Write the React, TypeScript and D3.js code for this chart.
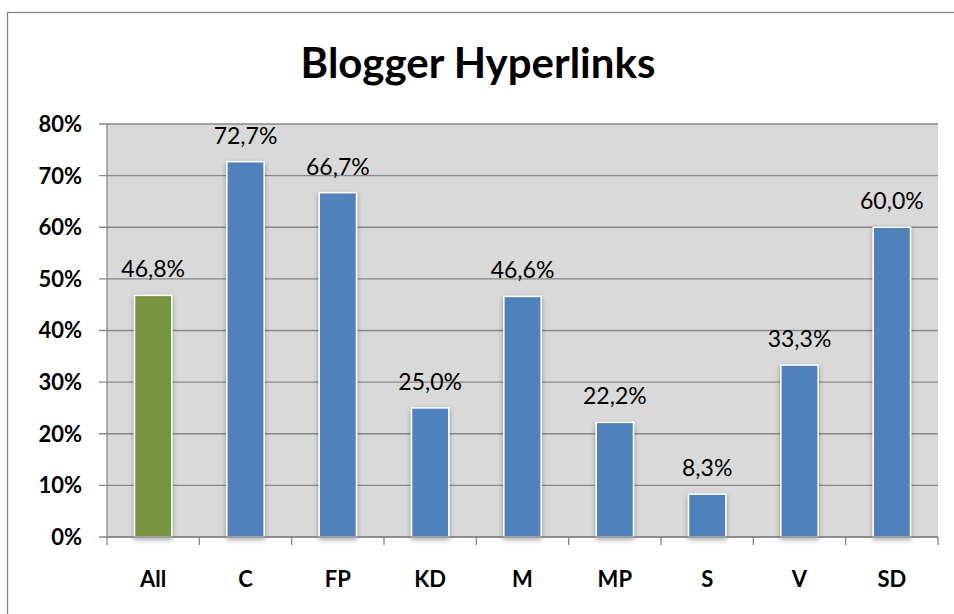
import React from "react";
import * as d3 from "d3";

const categories = ["All", "C", "FP", "KD", "M", "MP", "S", "V", "SD"];
const values = [46.8, 72.7, 66.7, 25.0, 46.6, 22.2, 8.3, 33.3, 60.0];
const barColors = ["#77933C", "#4F81BD", "#4F81BD", "#4F81BD", "#4F81BD", "#4F81BD", "#4F81BD", "#4F81BD", "#4F81BD"];
const yTicks = [0, 10, 20, 30, 40, 50, 60, 70, 80];
const title = "Blogger Hyperlinks";

const W = 954;
const H = 614;
const plot = { left: 107, right: 938, top: 124, bottom: 537 };
const font = "Lato, 'Open Sans', sans-serif";

export default function App() {
  const x = d3.scaleBand<string>().domain(categories).range([plot.left, plot.right]).padding(0);
  const y = d3.scaleLinear().domain([0, 80]).range([plot.bottom, plot.top]);
  const barW = x.bandwidth() * 0.404;
  const fmt = (v: number) => v.toFixed(1).replace(".", ",") + "%";

  return (
    <svg width={W} height={H} style={{ position: "absolute", left: 0, top: 0, background: "#fff" }}>
      <defs>
        <filter id="shadow" x="-30%" y="-10%" width="160%" height="130%">
          <feDropShadow dx="0" dy="2" stdDeviation="2.5" floodColor="#000" floodOpacity="0.35" />
        </filter>
      </defs>
      <rect x={7.5} y={12.5} width={W + 10} height={H + 10} fill="#fff" stroke="#868686" strokeWidth={1.3} />
      <text x={478} y={78} textAnchor="middle" fontFamily={font} fontWeight="bold" fontSize={42} fill="#000">
        {title}
      </text>
      <rect x={plot.left} y={plot.top} width={plot.right - plot.left} height={plot.bottom - plot.top} fill="#D9D9D9" />
      {yTicks.map((t) => (
        <g key={t}>
          <line x1={plot.left - 8} x2={plot.right} y1={y(t)} y2={y(t)} stroke="#878787" strokeWidth={1.3} />
          <text x={82} y={y(t)} dy="0.36em" textAnchor="end" fontFamily={font} fontWeight="bold" fontSize={22} fill="#000">
            {t + "%"}
          </text>
        </g>
      ))}
      <line x1={plot.left} x2={plot.left} y1={plot.top} y2={plot.bottom} stroke="#878787" strokeWidth={1.3} />
      {categories.map((c, i) => (
        <g key={c}>
          <rect
            x={x(c)! + x.bandwidth() / 2 - barW / 2}
            y={y(values[i])}
            width={barW}
            height={y(0) - y(values[i])}
            fill={barColors[i]}
            stroke="#fff"
            strokeWidth={1.5}
            filter="url(#shadow)"
          />
          <text
            x={x(c)! + x.bandwidth() / 2}
            y={y(values[i]) - 18}
            textAnchor="middle"
            fontFamily={font}
            fontSize={23}
            fill="#000"
          >
            {fmt(values[i])}
          </text>
          <text x={x(c)! + x.bandwidth() / 2} y={587} textAnchor="middle" fontFamily={font} fontWeight="bold" fontSize={22} fill="#000">
            {c}
          </text>
        </g>
      ))}
      <line x1={plot.left} x2={plot.right} y1={plot.bottom} y2={plot.bottom} stroke="#878787" strokeWidth={1.3} />
      {[...categories.map((c) => x(c)!), plot.right].map((tx, i) => (
        <line key={i} x1={tx} x2={tx} y1={plot.bottom} y2={plot.bottom + 8} stroke="#878787" strokeWidth={1.3} />
      ))}
    </svg>
  );
}
